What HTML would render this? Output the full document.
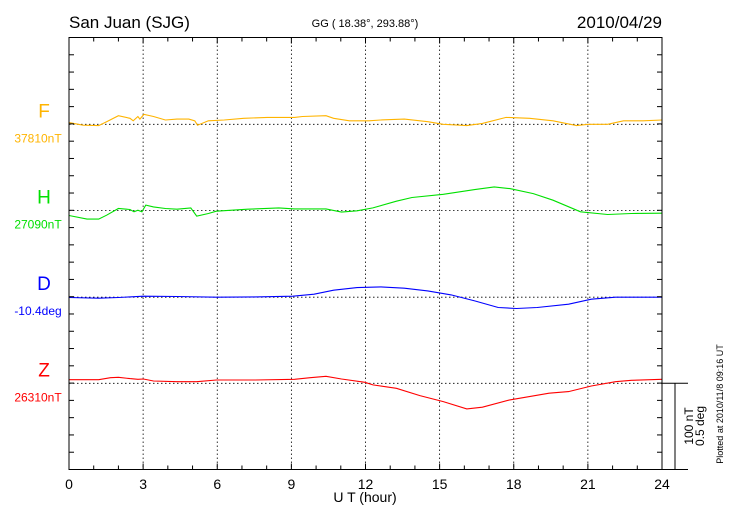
<!DOCTYPE html>
<html><head><meta charset="utf-8"><style>
html,body{margin:0;padding:0;background:#fff;}
svg{display:block;font-family:"Liberation Sans",sans-serif;}
</style></head><body>
<svg id="chart" width="730" height="520" viewBox="0 0 730 520" xmlns="http://www.w3.org/2000/svg">
<text x="69" y="28" font-size="17">San Juan (SJG)</text>
<text x="365" y="27" font-size="11" text-anchor="middle">GG ( 18.38°, 293.88°)</text>
<text x="662" y="28" font-size="17" text-anchor="end">2010/04/29</text>
<g id="grid"></g>
<g id="series"></g>
<rect x="69" y="37.5" width="593" height="432" fill="none" stroke="#000" stroke-width="1"/>
<g id="axes"></g>
<text x="365" y="502" font-size="14" text-anchor="middle">U T (hour)</text>
<line x1="662" y1="383.3" x2="688" y2="383.3" stroke="#000"/>
<line x1="675" y1="383.3" x2="675" y2="469.5" stroke="#000"/>
<line x1="662" y1="469.5" x2="688" y2="469.5" stroke="#000"/>
<text transform="translate(693,426) rotate(-90)" font-size="12" text-anchor="middle">100 nT</text>
<text transform="translate(704,426) rotate(-90)" font-size="12" text-anchor="middle">0.5 deg</text>
<text transform="translate(723,404) rotate(-90)" font-size="9" text-anchor="middle">Plotted at 2010/11/8 09:16 UT</text>
</svg>
<script>
const xTickLabels = ["0","3","6","9","12","15","18","21","24"];
const fHours = [0,0.57,1.2,1.52,2.0,2.47,2.6,2.79,2.87,3.03,3.42,3.9,4.37,4.85,5.09,5.2,5.64,6.28,7.07,8.02,9.13,9.45,10.4,10.71,11.35,12.14,12.61,13.57,14.52,15.15,16.1,16.73,17.69,18.64,19.59,20.54,21.01,21.8,22.44,23.23,24];
const fValues = [2,-1,-1.5,3,10,7,4,9,6,11.5,9,5,6,6,4,-1,4,5,7,8,8,9,10,7,4,4,5,6,3,0,-1.5,1,8,7,4,-1.5,0,0,4,4,5];
const hHours = [0,0.73,1.2,1.52,2.0,2.47,2.63,2.79,2.95,3.11,3.42,3.9,4.37,4.93,5.17,5.64,5.96,7.23,8.49,9.13,10.4,11.03,11.66,12.3,13.25,13.88,15.15,16.42,17.21,17.84,18.79,19.59,20.7,21.8,22.76,24];
const hValues = [-5.8,-10,-10,-5.4,2.3,1.2,-1.5,0.4,-1.5,6.2,4.2,2.3,1.5,3,-6.5,-3.5,-0.8,1.5,3,1.9,1.9,-1.9,-0.4,3,10.8,15,18.8,24.2,27.3,25.4,19.6,11.9,-1.5,-4.6,-3.5,-3.1];
const dHours = [0,1.2,2.0,3.01,4.37,5.96,7.54,9.06,9.92,10.71,11.66,12.61,13.57,14.52,15.47,16.42,17.37,18.11,18.95,20.22,21.14,22.12,24];
const dValuesArcmin = [-0.1,-0.35,-0.1,0.35,0.23,0,0.12,0.35,1.04,2.43,3.35,3.58,3.12,2.2,0.81,-1.27,-3.58,-3.93,-3.58,-2.43,-0.69,0,0];
const zHours = [0,1.2,1.68,2.0,2.47,2.79,3.01,3.42,4.37,5.17,5.96,7.54,9.13,9.76,10.4,11.03,11.98,12.3,13.25,14.2,15.15,16.1,16.73,17.84,19.43,20.22,21.14,22.12,22.76,24];
const zValues = [4.2,4.2,6.5,6.9,5.4,4.6,5,2.7,1.9,1.9,3.8,3.8,4.6,6.5,8.1,5,1.2,-1.9,-5.8,-14.2,-21.2,-29.6,-27.7,-19.2,-11.5,-9.6,-3.1,1.9,3.5,4.6];
const componentNames = ["F","H","D","Z"];
const baseLabels = ["37810nT","27090nT","-10.4deg","26310nT"];

const NS="http://www.w3.org/2000/svg";
const X0=69, X1=662, Y0=37.5, Y1=469.5;
const band=86.4;
const baseY=[124.3,210.5,297.2,383.3];
const pxPerNT=band/100, pxPerArcmin=band/30;
const xScale=h=>X0+h*(X1-X0)/24;
function mk(tag,attrs,parent){const e=document.createElementNS(NS,tag);for(const k in attrs)e.setAttribute(k,attrs[k]);parent.appendChild(e);return e;}
const grid=document.getElementById('grid'), axes=document.getElementById('axes'), ser=document.getElementById('series');
for(let h=3;h<24;h+=3){
  const l=mk('line',{x1:xScale(h),x2:xScale(h),y1:Y0,y2:Y1,stroke:'#000','stroke-width':0.8,'stroke-dasharray':'1.5,2.5'},grid);
  
  
}
baseY.forEach(y=>{
  const l=mk('line',{x1:X0,x2:X1,y1:y,y2:y,stroke:'#000','stroke-width':0.8,'stroke-dasharray':'1.5,2.5'},grid);
  
  
});
for(let h=0;h<=24;h++){
  const len=(h%3===0)?6:4, x=xScale(h);
  const t1=mk('line',{x1:x,x2:x,y1:Y1,y2:Y1-len,stroke:'#000'},axes);
  
  
  const t2=mk('line',{x1:x,x2:x,y1:Y0,y2:Y0+len,stroke:'#000'},axes);
  
  
}
xTickLabels.forEach((s,i)=>{
  const t=mk('text',{x:xScale(i*3),y:489,'font-size':14,'text-anchor':'middle'},axes);
  t.textContent=s;
  
  
});
for(let y=Y0+band/5;y<Y1-1;y+=band/5){
  const a=mk('line',{x1:X0,x2:X0+5,y1:y,y2:y,stroke:'#000'},axes);
  
  
  const b=mk('line',{x1:X1,x2:X1-5,y1:y,y2:y,stroke:'#000'},axes);
  
  
}
const colors=['#ffb400','#00e000','#0000ff','#ff0000'];
const seriesList=[[fHours,fValues,pxPerNT],[hHours,hValues,pxPerNT],[dHours,dValuesArcmin,pxPerArcmin],[zHours,zValues,pxPerNT]];
seriesList.forEach((s,i)=>{
  const pts=s[0].map((h,j)=>xScale(h).toFixed(1)+','+(baseY[i]-s[1][j]*s[2]).toFixed(1)).join(' ');
  const p=mk('polyline',{points:pts,fill:'none',stroke:colors[i],'stroke-width':1.1},ser);
  
  
  const n=mk('text',{x:44,y:baseY[i]-7,'font-size':19,'text-anchor':'middle',fill:colors[i]},axes);
  n.textContent=componentNames[i];
  
  
  const v=mk('text',{x:38,y:baseY[i]+18,'font-size':12,'text-anchor':'middle',fill:colors[i]},axes);
  v.textContent=baseLabels[i];
  
  
});
</script>
</body></html>
